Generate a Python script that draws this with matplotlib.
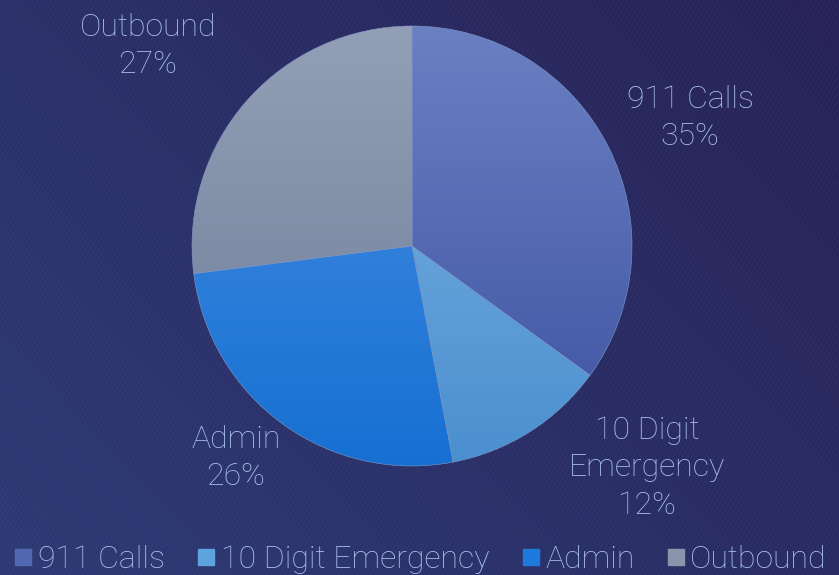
import numpy as np
import matplotlib
matplotlib.use("Agg")
import matplotlib.pyplot as plt
from matplotlib.collections import LineCollection
from matplotlib.lines import Line2D
from matplotlib.colors import LinearSegmentedColormap

categories = ["911 Calls", "10 Digit Emergency", "Admin", "Outbound"]
values = [35, 12, 26, 27]
label_texts = ["911 Calls\n35%", "10 Digit\nEmergency\n12%", "Admin\n26%", "Outbound\n27%"]

top_colors = ["#6b80c2", "#80b4e4", "#4a90e4", "#939fb6"]
bot_colors = ["#3d52a2", "#4a8fcf", "#1670d2", "#6c7c97"]
legend_colors = ["#5368b2", "#5da3de", "#1f7ade", "#8a94aa"]
text_color = "#a9c3ec"
FAM = ['Roboto', 'DejaVu Sans']

plt.rcParams['font.family'] = FAM
W, H = 839, 575
fig = plt.figure(figsize=(W / 100, H / 100), dpi=100)

# background
bg = fig.add_axes([0, 0, 1, 1], zorder=0)
bg.set_xlim(0, W); bg.set_ylim(0, H); bg.axis('off')
yy, xx = np.mgrid[0:H, 0:W]
t = (xx / W * 0.6 + (H - yy) / H * 0.4)
cmap_bg = LinearSegmentedColormap.from_list("bg", ["#2e3a74", "#262258"])
bg.imshow(t, cmap=cmap_bg, extent=[0, W, 0, H], origin='upper', aspect='auto')
segs = []
step = 4.5
for x0 in np.arange(-H, W + H, step):
    segs.append([(x0, 0), (x0 + H * 0.55, H)])
bg.add_collection(LineCollection(segs, colors="#ffffff", linewidths=0.8, alpha=0.03))

# pie
ax = fig.add_axes([0, 0, 1, 1], zorder=1)
ax.patch.set_alpha(0)
scale = 220.0
cx, cy = 412, 329  # pixel from bottom
wedges, _ = ax.pie(values, startangle=90, counterclock=False, radius=1,
                   wedgeprops=dict(linewidth=0.4, edgecolor="#7f9ac8", alpha=1))
for w, c0, c1 in zip(wedges, top_colors, bot_colors):
    w.set_facecolor("none")
    grad = np.linspace(0, 1, 256).reshape(-1, 1)
    cm = LinearSegmentedColormap.from_list("g", [c0, c1])
    im = ax.imshow(grad, cmap=cm, extent=[-1, 1, -1, 1], origin='upper', aspect='auto', zorder=0.5)
    im.set_clip_path(w)
ax.set_xlim(-cx / scale, (W - cx) / scale)
ax.set_ylim(-cy / scale, (H - cy) / scale)
ax.set_aspect('auto')
ax.axis('off')

# labels (centres in pie-radius units)
label_pos = [(1.264, 0.582), (1.068, -1.009), (-0.80, -0.964), (-1.20, 0.909)]
for txt, (lx, ly) in zip(label_texts, label_pos):
    ax.text(lx, ly, txt, ha='center', va='center', color=text_color, fontsize=23,
            fontweight='light', linespacing=1.36)

handles = [Line2D([], [], marker='s', linestyle='none', markersize=12,
                  markerfacecolor=c, markeredgecolor=c) for c in legend_colors]
fig.legend(handles, categories, loc='center', ncol=4, frameon=False,
           bbox_to_anchor=(0.5, 15.5 / H), labelcolor=text_color,
           handletextpad=0.1, columnspacing=0.95, handlelength=0.7,
           borderpad=0, borderaxespad=0,
           prop=dict(family=FAM, weight='light', size=23))

fig.savefig("out.png", dpi=100)
